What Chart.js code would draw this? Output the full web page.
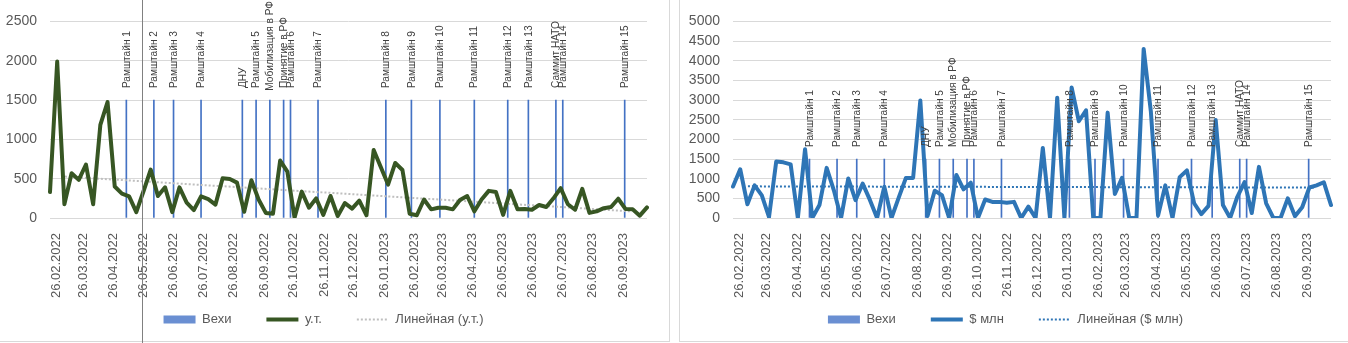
<!DOCTYPE html>
<html lang="ru">
<head>
<meta charset="utf-8">
<title>Вехи</title>
<script src="https://cdn.jsdelivr.net/npm/chart.js@4.4.1/dist/chart.umd.min.js"></script>
<style>
  html, body { margin: 0; padding: 0; background: #fff; }
  body { width: 1348px; height: 343px; position: relative; overflow: hidden; }
  .box { position: absolute; top: 0; height: 341px; border-bottom: 1px solid #d9d9d9; }
  #box-ut  { left: 0; width: 669px; border-right: 1px solid #d9d9d9; }
  #box-usd { left: 679px; width: 668px; border-left: 1px solid #d9d9d9; }
  .box canvas { position: absolute; left: 0; top: 0; }
  #marker { position: absolute; left: 142px; top: 0; width: 1px; height: 343px; background: #808080; }
</style>
</head>
<body>
<div class="box" id="box-ut"><canvas id="chart-ut" width="669" height="341"></canvas></div>
<div class="box" id="box-usd"><canvas id="chart-usd" width="668" height="341"></canvas></div>
<div id="marker"></div>

<script>
// ── данные ─────────────────────────────────────────────
const tickLabels = [
  '26.02.2022', '26.03.2022', '26.04.2022', '26.05.2022', '26.06.2022', '26.07.2022',
  '26.08.2022', '26.09.2022', '26.10.2022', '26.11.2022', '26.12.2022', '26.01.2023',
  '26.02.2023', '26.03.2023', '26.04.2023', '26.05.2023', '26.06.2023', '26.07.2023',
  '26.08.2023', '26.09.2023'
];

const milestoneNames = [
  'Рамштайн 1', 'Рамштайн 2', 'Рамштайн 3', 'Рамштайн 4', 'ДНУ', 'Рамштайн 5',
  'Мобилизация в РФ', 'Принятие в РФ', 'Рамштайн 6', 'Рамштайн 7', 'Рамштайн 8',
  'Рамштайн 9', 'Рамштайн 10', 'Рамштайн 11', 'Рамштайн 12', 'Рамштайн 13',
  'Саммит НАТО', 'Рамштайн 14', 'Рамштайн 15'
];
const milestoneDates = [
  '30.04.2022', '28.05.2022', '17.06.2022', '15.07.2022', '26.08.2022', '09.09.2022',
  '23.09.2022', '07.10.2022', '14.10.2022', '11.11.2022', '19.01.2023', '14.02.2023',
  '15.03.2023', '19.04.2023', '23.05.2023', '13.06.2023', '11.07.2023', '18.07.2023',
  '19.09.2023'
];
// высота столбиков «Вехи»
const vekhiUt  = [1500, 1500, 1500, 1500, 1500, 1500, 1500, 1500, 1500, 1500,
                  1500, 1500, 1500, 1500, 1500, 1500, 1500, 1500, 1500];
const vekhiUsd = [1500, 1500, 1500, 1500, 1500, 1500, 1500, 1500, 1500, 1500,
                  1500, 1500, 1500, 1500, 1500, 1500, 1500, 1500, 1500];

// понедельные значения
const utValues = [
  330, 1990, 175, 570, 485, 680, 175, 1185, 1475, 400,
  310, 275, 75, 340, 615, 280, 390, 75, 390, 195,
  100, 275, 240, 170, 505, 495, 450, 80, 480, 235,
  65, 55, 730, 590, 5, 335, 130, 250, 40, 280,
  25, 190, 120, 220, 35, 865, 645, 425, 700, 610,
  55, 35, 235, 110, 130, 130, 110, 230, 280, 85,
  235, 345, 330, 40, 345, 110, 115, 105, 165, 140,
  250, 380, 175, 105, 370, 65, 85, 125, 140, 245,
  115, 110, 30, 135
];
const usdValues = [
  800, 1240, 350, 830, 575, 25, 1435, 1415, 1365, 0,
  1750, 0, 330, 1275, 705, 0, 1005, 455, 875, 460,
  0, 795, 0, 520, 1020, 1020, 2990, 50, 695, 580,
  0, 1095, 730, 900, 0, 470, 410, 410, 390, 410,
  0, 290, 0, 1780, 0, 3060, 0, 3320, 2460, 2740,
  0, 0, 2680, 610, 1020, 0, 0, 4300, 2700, 60,
  830, 0, 1040, 1210, 375, 100, 310, 2490, 330, 0,
  540, 915, 125, 1300, 375, 0, 0, 500, 45, 275,
  775, 830, 910, 330
];
const weeks = utValues.map((_, i) => i + 1);

// линии тренда: значение в начале и в конце периода
const trendUt  = [527, 84];
const trendUsd = [805, 773];

// ── вспомогательное ────────────────────────────────────
const START = Date.UTC(2022, 1, 26);
function dayOf(s) {
  const [d, m, y] = s.split('.').map(Number);
  return (Date.UTC(y, m - 1, d) - START) / 86400000;
}
const tickDays = tickLabels.map(dayOf);
const LAST_DAY = tickDays[tickDays.length - 1];

const FONT = '"Liberation Sans", Arial, sans-serif';
const GREY = '#595959';

// подписи вех — вертикально над столбиком, чуть сжатым шрифтом
const milestoneLabels = {
  id: 'milestoneLabels',
  afterLayout(chart) {
    // подписи дат длиннее высоты оси — не обрезать их
    const x = chart.scales.x;
    x.bottom = x.top + 80;
  },
  afterDatasetsDraw(chart) {
    const meta = chart.getDatasetMeta(0);
    const ctx = chart.ctx;
    const squeeze = 0.88;
    ctx.save();
    ctx.font = '11.5px ' + FONT;
    ctx.fillStyle = '#404040';
    ctx.textBaseline = 'middle';
    ctx.textAlign = 'left';
    meta.data.forEach((bar, i) => {
      const text = milestoneNames[i];
      const w = ctx.measureText(text).width * squeeze;
      let base = bar.y - 12;
      if (base - w < 1) base = w + 1;
      ctx.save();
      ctx.translate(bar.x, base);
      ctx.rotate(-Math.PI / 2);
      ctx.scale(squeeze, 1);
      ctx.fillText(text, 0, 0);
      ctx.restore();
    });
    ctx.restore();
  }
};

function buildChart(canvasId, cfg) {
  return new Chart(document.getElementById(canvasId), {
    type: 'line',
    data: {
      labels: weeks,
      datasets: [
        {
          type: 'bar',
          label: 'Вехи',
          xAxisID: 'x',
          data: milestoneDates.map((d, i) => ({ x: dayOf(d), y: cfg.bars[i] })),
          backgroundColor: '#4472C4',
          barThickness: 1,
          order: 2
        },
        {
          label: cfg.name,
          xAxisID: 'xc',
          data: cfg.values,
          borderColor: cfg.color,
          borderWidth: 4,
          borderJoinStyle: 'round',
          borderCapStyle: 'round',
          pointRadius: 0,
          order: 0
        },
        {
          label: 'Линейная (' + cfg.name + ')',
          xAxisID: 'x',
          data: [{ x: 0, y: cfg.trend[0] }, { x: LAST_DAY, y: cfg.trend[1] }],
          borderColor: cfg.trendColor,
          borderWidth: 2,
          borderDash: [2, 2],
          pointRadius: 0,
          order: 1
        }
      ]
    },
    options: {
      responsive: false,
      animation: false,
      layout: { padding: { top: 15, right: cfg.padRight, bottom: 5, left: 0 } },
      plugins: {
        tooltip: { enabled: false },
        legend: {
          position: 'bottom',
          labels: {
            usePointStyle: true,
            pointStyleWidth: 32,
            boxHeight: 8,
            padding: 35,
            color: GREY,
            font: { family: FONT, size: 13 },
            generateLabels: chart => chart.data.datasets.map((ds, i) => ({
              text: ds.label,
              datasetIndex: i,
              fillStyle: i === 0 ? '#6A8FD2' : 'transparent',
              strokeStyle: i === 0 ? '#6A8FD2' : ds.borderColor,
              lineWidth: i === 0 ? 0 : ds.borderWidth,
              lineDash: ds.borderDash || [],
              pointStyle: i === 0 ? 'rect' : 'line',
              fontColor: GREY,
              hidden: false
            }))
          }
        }
      },
      scales: {
        x: {
          type: 'linear',
          position: 'bottom',
          min: 0,
          max: LAST_DAY,
          afterBuildTicks: s => { s.ticks = tickDays.map(v => ({ value: v })); },
          afterFit: s => { s.height = 60; },
          ticks: {
            autoSkip: false,
            minRotation: 90,
            maxRotation: 90,
            padding: 7,
            labelOffset: -9,
            color: GREY,
            font: { family: FONT, size: 13 },
            callback: (v, i) => tickLabels[i]
          },
          grid: { display: false },
          border: { display: false }
        },
        xc: { type: 'category', axis: 'x', display: false, offset: false },
        y: {
          min: 0,
          max: cfg.yMax,
          afterFit: s => { s.width = cfg.yWidth; },
          ticks: {
            stepSize: 500, autoSkip: false, padding: 13, color: GREY,
            font: { family: FONT, size: 14 },
            callback: v => String(v)
          },
          grid: { color: '#d9d9d9', drawTicks: false },
          border: { display: false }
        }
      }
    },
    plugins: [milestoneLabels]
  });
}

buildChart('chart-ut', {
  name: 'у.т.', values: utValues, bars: vekhiUt, trend: trendUt,
  color: '#375623', trendColor: '#BFBFBF',
  yMax: 2500, yWidth: 50, padRight: 22
});

buildChart('chart-usd', {
  name: '$ млн', values: usdValues, bars: vekhiUsd, trend: trendUsd,
  color: '#2E75B6', trendColor: '#2E75B6',
  yMax: 5000, yWidth: 53, padRight: 17
});
</script>
</body>
</html>
